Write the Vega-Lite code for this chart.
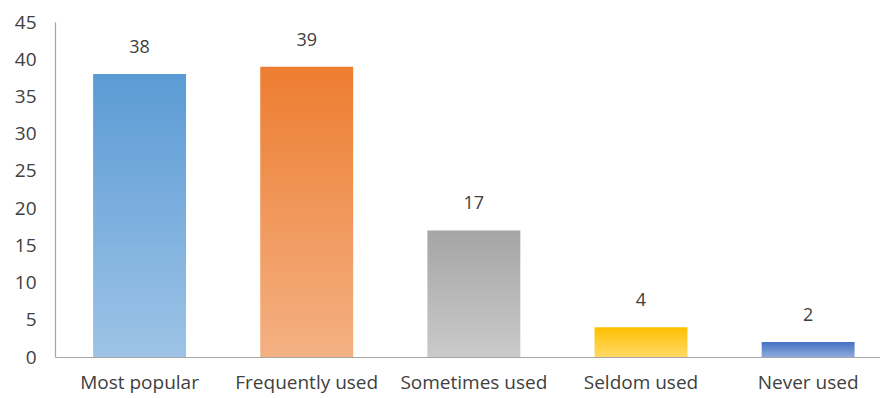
{
  "$schema": "https://vega.github.io/schema/vega-lite/v6.json",
  "width": 825,
  "height": 335,
  "padding": {"left": 55, "top": 22, "right": 0, "bottom": 41},
  "autosize": {"type": "none"},
  "background": "white",
  "config": {"view": {"stroke": null}, "font": "Open Sans"},
  "data": {"values": [
    {"cat": "Most popular", "n": 38},
    {"cat": "Frequently used", "n": 39},
    {"cat": "Sometimes used", "n": 17},
    {"cat": "Seldom used", "n": 4},
    {"cat": "Never used", "n": 2}
  ]},
  "encoding": {
    "x": {"field": "cat", "type": "nominal", "sort": null, "title": null,
      "scale": {"paddingInner": 0.444, "paddingOuter": 0.19, "align": 0.6},
      "axis": {"labelAngle": 0, "labelFontSize": 19, "labelColor": "#404040", "labelPadding": 16, "ticks": false, "domainColor": "#a6a6a6", "domainWidth": 1.2, "labelFont": "Open Sans"}},
    "y": {"field": "n", "type": "quantitative", "title": null,
      "scale": {"domain": [0, 45]},
      "axis": {"values": [0,5,10,15,20,25,30,35,40,45], "grid": false, "ticks": false, "labelFontSize": 19, "labelColor": "#404040", "labelPadding": 19, "domainColor": "#a6a6a6", "domainWidth": 1.2, "labelFont": "Open Sans"}}
  },
  "layer": [
    {
      "mark": {"type": "bar"},
      "encoding": {
        "color": {
          "condition": [
            {"test": "datum.cat === 'Most popular'", "value": {"gradient": "linear", "x1": 0, "y1": 0, "x2": 0, "y2": 1, "stops": [{"offset": 0, "color": "#5b9bd5"}, {"offset": 1, "color": "#9dc3e6"}]}},
            {"test": "datum.cat === 'Frequently used'", "value": {"gradient": "linear", "x1": 0, "y1": 0, "x2": 0, "y2": 1, "stops": [{"offset": 0, "color": "#ed7d31"}, {"offset": 1, "color": "#f4b183"}]}},
            {"test": "datum.cat === 'Sometimes used'", "value": {"gradient": "linear", "x1": 0, "y1": 0, "x2": 0, "y2": 1, "stops": [{"offset": 0, "color": "#a5a5a5"}, {"offset": 1, "color": "#cacaca"}]}},
            {"test": "datum.cat === 'Seldom used'", "value": {"gradient": "linear", "x1": 0, "y1": 0, "x2": 0, "y2": 1, "stops": [{"offset": 0, "color": "#ffc000"}, {"offset": 1, "color": "#ffd966"}]}}
          ],
          "value": {"gradient": "linear", "x1": 0, "y1": 0, "x2": 0, "y2": 1, "stops": [{"offset": 0, "color": "#4472c4"}, {"offset": 1, "color": "#8faadc"}]}
        }
      }
    },
    {
      "mark": {"type": "text", "dy": -26, "fontSize": 18, "color": "#404040", "font": "Open Sans"},
      "encoding": {"text": {"field": "n", "type": "quantitative"}}
    }
  ]
}
